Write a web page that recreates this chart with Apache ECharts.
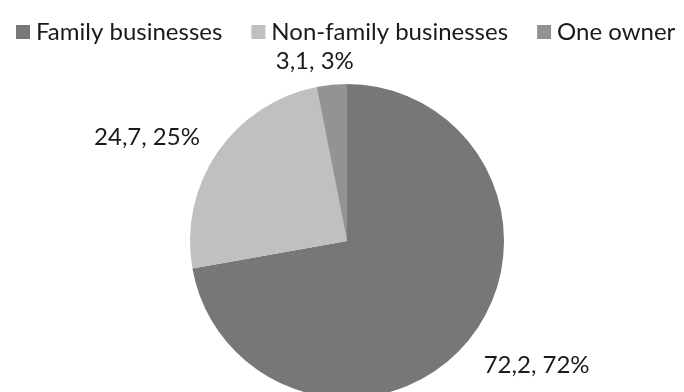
<!DOCTYPE html>
<html><head><meta charset="utf-8">
<script src="https://cdn.jsdelivr.net/npm/echarts@6/dist/echarts.min.js"></script>
<style>html,body{margin:0;padding:0;background:#fff}#c{width:684px;height:392px}</style>
</head><body><div id="c"></div>
<script>
const categories = ['Family businesses', 'Non-family businesses', 'One owner'];
const values = [72.2, 24.7, 3.1];
const percents = [72, 25, 3];
const colors = ['#777777', '#c0c0c0', '#939393'];
const labelShift = [[-4, 11], [4, -4], [29, -4]];

const chart = echarts.init(document.getElementById('c'));
chart.setOption({
  animation: false,
  legend: {
    top: 15, left: 11,
    itemWidth: 14, itemHeight: 14, itemGap: 29,
    icon: 'rect',
    textStyle: { fontFamily: 'Lato', fontSize: 24, color: '#1a1a1a', padding: [0, 0, 0, 1] },
    data: categories
  },
  series: [{
    type: 'pie',
    center: [347, 241],
    radius: 157,
    startAngle: 90,
    clockwise: true,
    label: {
      show: true,
      position: 'outside',
      fontFamily: 'Lato', fontSize: 24, color: '#1a1a1a',
      formatter: p => String(values[p.dataIndex]).replace('.', ',') + ', ' + percents[p.dataIndex] + '%'
    },
    labelLine: { show: false, length: 20, length2: 0 },
    labelLayout: p => ({ dx: labelShift[p.dataIndex][0], dy: labelShift[p.dataIndex][1] }),
    itemStyle: { borderWidth: 0 },
    emphasis: { disabled: true },
    data: categories.map((c, i) => ({ name: c, value: values[i], itemStyle: { color: colors[i] } }))
  }]
});
</script></body></html>
